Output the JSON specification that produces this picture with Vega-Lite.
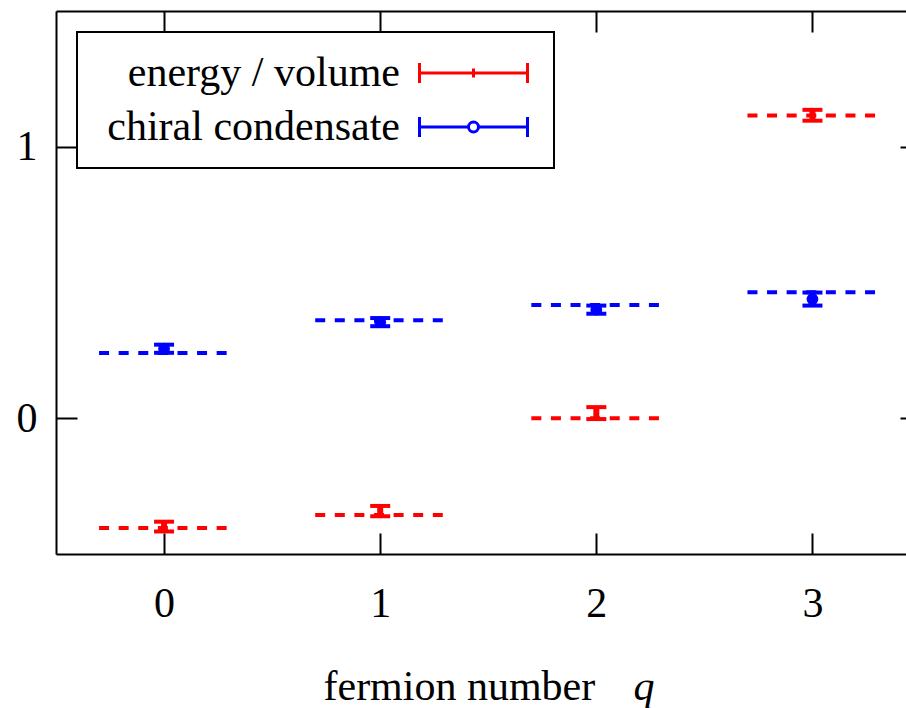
{
  "$schema": "https://vega.github.io/schema/vega-lite/v6.json",
  "width": 850,
  "height": 543,
  "autosize": {"type": "none"},
  "padding": {"left": 56, "top": 11, "right": 0, "bottom": 154},
  "background": "white",
  "config": {
    "view": {"stroke": null},
    "font": "Liberation Serif",
    "axis": {
      "labelFont": "Liberation Serif", "labelFontSize": 42, "labelColor": "black",
      "domainColor": "black", "domainWidth": 2, "tickColor": "black", "tickWidth": 2,
      "grid": false, "titleFont": "Liberation Serif", "titleFontSize": 42,
      "titleColor": "black", "titleFontWeight": "normal"
    },
    "legend": {
      "orient": "none", "legendX": 21, "legendY": 21,
      "labelFont": "Liberation Serif", "labelFontSize": 42, "labelColor": "black",
      "labelAlign": "right", "labelOffset": -94.5, "symbolOffset": 355.5, "labelLimit": 0,
      "symbolSize": 729, "symbolStrokeWidth": 3, "symbolOpacity": 1,
      "strokeColor": "black", "strokeWidth": 2, "padding": 20, "rowPadding": 12, "fillColor": "white"
    }
  },
  "data": {"values": [
    {"q": 0, "series": "energy / volume", "ref": -0.404, "val": -0.399, "err": 0.018},
    {"q": 1, "series": "energy / volume", "ref": -0.356, "val": -0.342, "err": 0.019},
    {"q": 2, "series": "energy / volume", "ref": 0.0, "val": 0.019, "err": 0.022},
    {"q": 3, "series": "energy / volume", "ref": 1.115, "val": 1.116, "err": 0.02},
    {"q": 0, "series": "chiral condensate", "ref": 0.240, "val": 0.256, "err": 0.015},
    {"q": 1, "series": "chiral condensate", "ref": 0.361, "val": 0.354, "err": 0.015},
    {"q": 2, "series": "chiral condensate", "ref": 0.417, "val": 0.400, "err": 0.015},
    {"q": 3, "series": "chiral condensate", "ref": 0.464, "val": 0.439, "err": 0.024}
  ]},
  "resolve": {"axis": {"x": "independent", "y": "independent"}},
  "layer": [
    {
      "mark": {"type": "rule", "strokeWidth": 4, "strokeDash": [10, 9.6], "xOffset": -65, "x2Offset": 65},
      "encoding": {
        "x": {"field": "q", "type": "quantitative",
          "scale": {"domain": [-0.5, 3.4328], "nice": false, "zero": false},
          "axis": {"orient": "bottom", "values": [0, 1, 2, 3], "tickSize": -21, "labelPadding": 50,
            "title": "fermion number", "titleX": 267, "titleY": 145, "titleAlign": "left", "titleBaseline": "alphabetic"}},
        "x2": {"field": "q"},
        "y": {"field": "ref", "type": "quantitative",
          "scale": {"domain": [-0.5, 1.5], "nice": false, "zero": false},
          "axis": {"orient": "left", "values": [0, 1], "tickSize": -21, "labelPadding": 40, "title": null}},
        "color": {"condition": {"test": "datum.series === 'chiral condensate'", "value": "#0000ff"}, "value": "#ff0000"}
      }
    },
    {
      "mark": {"type": "errorbar", "ticks": {"size": 20, "thickness": 4, "opacity": 1}, "rule": {"opacity": 1}, "thickness": 6, "opacity": 1},
      "encoding": {
        "x": {"field": "q", "type": "quantitative",
          "axis": {"orient": "top", "values": [0, 1, 2, 3], "tickSize": -21, "labels": false, "title": null}},
        "y": {"field": "val", "type": "quantitative",
          "axis": {"orient": "right", "values": [0, 1], "tickSize": -6, "labels": false, "domain": false, "title": null}},
        "yError": {"field": "err"},
        "color": {"condition": {"test": "datum.series === 'chiral condensate'", "value": "#0000ff"}, "value": "#ff0000"}
      }
    },
    {
      "transform": [{"filter": "datum.series === 'chiral condensate'"}],
      "mark": {"type": "point", "filled": true, "shape": "circle", "size": 140, "opacity": 1, "color": "#0000ff"},
      "encoding": {
        "x": {"field": "q", "type": "quantitative",
          "axis": {"orient": "bottom", "title": "q", "titleFontStyle": "italic", "titleX": 577, "titleY": 145,
            "titleAlign": "left", "titleBaseline": "alphabetic", "labels": false, "ticks": false, "domain": false}},
        "y": {"field": "val", "type": "quantitative", "axis": null}
      }
    },
    {
      "mark": {"type": "point", "filled": false, "opacity": 0},
      "encoding": {
        "x": {"field": "q", "type": "quantitative", "axis": null},
        "y": {"field": "val", "type": "quantitative", "axis": null},
        "color": {"field": "series", "type": "nominal",
          "scale": {"domain": ["energy / volume", "chiral condensate"], "range": ["#ff0000", "#0000ff"]},
          "legend": {"title": null}},
        "shape": {"field": "series", "type": "nominal",
          "scale": {"domain": ["energy / volume", "chiral condensate"],
            "range": ["M-4,-0.74L-4,0.74M-4,0L4,0M4,-0.74L4,0.74M0,-0.333L0,0.333",
                      "M-4,-0.74L-4,0.74M-4,0L-0.37,0M0.37,0L4,0M4,-0.74L4,0.74M0.37,0A0.37,0.37 0 1,1 -0.37,0A0.37,0.37 0 1,1 0.37,0"]},
          "legend": {"title": null}}
      }
    }
  ]
}
